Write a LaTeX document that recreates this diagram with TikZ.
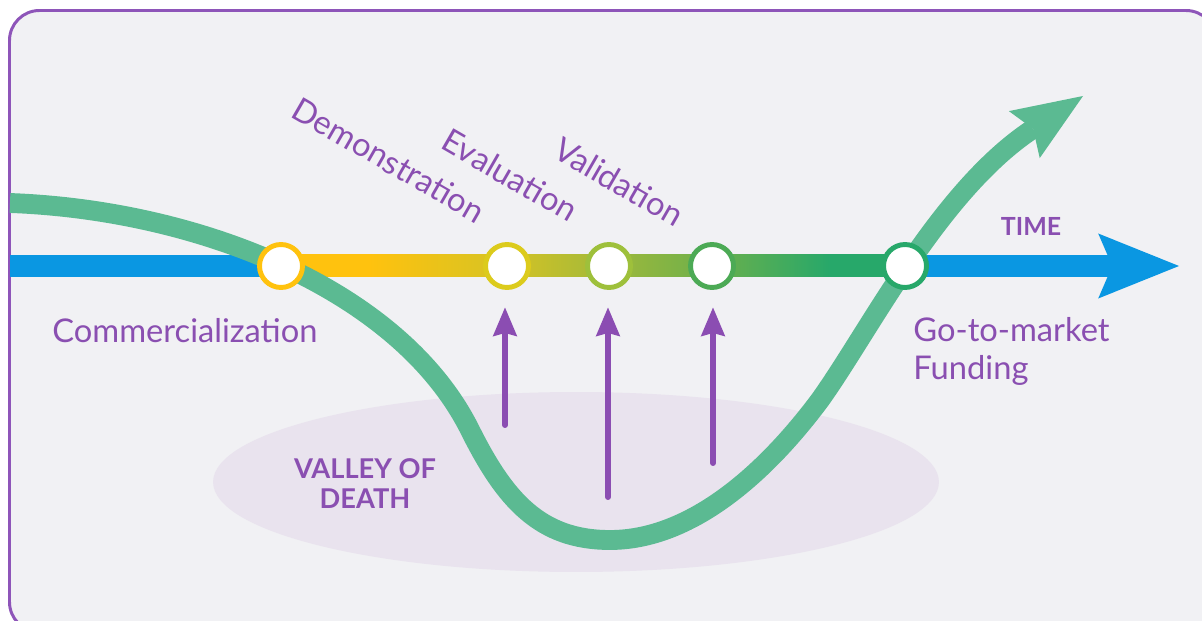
\documentclass[tikz,border=0pt]{standalone}
\usepackage{fontspec}
\setmainfont{Lato}
\usetikzlibrary{arrows.meta,positioning}
\definecolor{bgfill}{HTML}{F1F1F4}
\definecolor{frame}{HTML}{8E55B9}
\definecolor{valley}{HTML}{E9E3EE}
\definecolor{flowgreen}{HTML}{5BBA92}
\definecolor{timeblue}{HTML}{0A97E2}
\definecolor{ink}{HTML}{8A4FB1}
\definecolor{arrowink}{HTML}{8B4DB2}
\definecolor{c1}{HTML}{FFC20E}
\definecolor{c2}{HTML}{DCCB1C}
\definecolor{c3}{HTML}{9EC03B}
\definecolor{c4}{HTML}{4CAA55}
\definecolor{c5}{HTML}{27A86A}
\definecolor{g2}{HTML}{D6C324}
\definecolor{g3}{HTML}{A2B93A}
\definecolor{g4}{HTML}{6CB04B}
% the bar is mapped onto 25bp..75bp of the shading
\pgfdeclarehorizontalshading{stagebar}{100bp}{color(0bp)=(c1); color(32bp)=(c1); color(43bp)=(g2); color(51bp)=(g3); color(59.5bp)=(g4); color(69bp)=(c5); color(100bp)=(c5)}
\tikzset{
	stage/.style={circle,draw=#1,fill=white,line width=2.8pt,minimum size=0.86cm,inner sep=0pt},
	lbl/.style={text=ink,font=\fontsize{18.6}{21.5}\selectfont,inner sep=0pt},
	tag/.style={text=ink,font=\bfseries\fontsize{15.5}{17}\selectfont,inner sep=0pt,align=center},
	push/.style={draw=arrowink,line width=3.4pt,line cap=round,-{Stealth[length=16.5pt,width=14pt,inset=2pt,line width=0pt]},shorten >=10pt},
	timeline/.style={draw=timeblue,line width=12.5pt,-{Stealth[length=46pt,width=37pt,inset=8pt,line width=0pt]}},
	flow/.style={draw=flowgreen,line width=11.3pt,-{Stealth[length=40pt,width=32pt,inset=6pt,line width=0pt]}}
}
\begin{document}
\begin{tikzpicture}[x=0.02cm,y=-0.02cm]
		\fill[white] (0,0) rectangle (1202,621);
		\useasboundingbox (0,0) rectangle (1202,621);
		\draw[frame,fill=bgfill,line width=1.7pt,rounded corners=0.6cm] (9.5,10.5) rectangle (1216,632);
		
		\fill[valley] (576,482) ellipse [x radius=7.26cm, y radius=1.8cm]; % valley
		\node[tag] (vod) at (365,458) [anchor=north] {VALLEY OF\\DEATH};
		
		\draw[timeline] (10,266) -- (1179,266);
		\fill[shading=stagebar] (281,255) rectangle (905,277); % stages
		
		\draw[flow] (10,203) .. controls (200,210) and (400,290) .. (470,430)
			.. controls (505,500) and (540,540) .. (610,540)
			.. controls (690,540) and (764,475) .. (820,400)
			.. controls (870,330) and (940,190) .. (1083,96);
		
		\node[stage=c1] (s1) at (281,266) {};
		\node[stage=c2] (s2) at (507,266) {};
		\node[stage=c3] (s3) at (609,266) {};
		\node[stage=c4] (s4) at (712,266) {};
		\node[stage=c5] (s5) at (905,266) {};
		
		\node[lbl,rotate=-30] (demo) at (389,160) {Demonstration};
		\node[lbl,rotate=-30] (eval) at (510,175) {Evaluation};
		\node[lbl,rotate=-30] (vali) at (619,182) {Validation};
		
		\node[lbl,anchor=base west] (comm) at (52,342) {Commercialization};
		\node[lbl,anchor=north west,align=left] (gtm) at (913,317) {Go-to-market\\Funding};
		\node[tag,font=\bfseries\fontsize{14.2}{16}\selectfont] (time) at (1031,226) {TIME};
		
		\coordinate (b2) at (505,425);
		\coordinate (b3) at (608,497);
		\coordinate (b4) at (713,463);
		\draw[push] (b2) -- (b2 |- s2.south);
		\draw[push] (b3) -- (b3 |- s3.south);
		\draw[push] (b4) -- (b4 |- s4.south);
	\end{tikzpicture}
\end{document}
